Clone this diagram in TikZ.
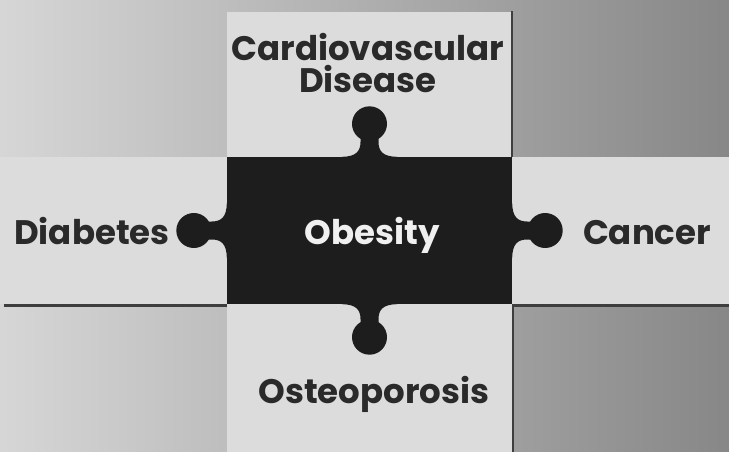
\documentclass[tikz,border=0pt]{standalone}
\usepackage{fontspec}
\setmainfont{Poppins}
\usepackage{tikz}
\usetikzlibrary{positioning}
\definecolor{hell}{HTML}{DCDCDC}
\definecolor{kern}{HTML}{1D1D1D}
\definecolor{schrift}{HTML}{2A2A2A}
\definecolor{schattig}{HTML}{3E3E3E}
\tikzset{
    feld/.style     = {fill=hell, inner sep=0pt, minimum height=147pt},
    mitte/.style    = {feld, fill=kern},
    beschr/.style   = {font=\fontsize{34}{32}\selectfont\bfseries, text=schrift,
                       align=center, inner sep=0pt},
    schatten/.style = {draw=schattig, line width=2.5pt},
    knopf/.pic      = {
        \fill[kern] (-28,-1) -- (-28,0) .. controls (-13,0) and (-9,6) .. (-9,15)
            -- (-9,22) -- (9,22) -- (9,15) .. controls (9,6) and (13,0) .. (28,0)
            -- (28,-1) -- cycle;
        \fill[kern] (0,33) circle[radius=17.5];
    }
}

\begin{document}
\begin{tikzpicture}[x=1pt, y=1pt]

    \useasboundingbox (0,-452) rectangle (729,0);

    % Hintergrund
    \shade[left color=black!16, right color=black!47] (0,-452) rectangle (729,0);

    % Felder
    \node[mitte, minimum width=285pt] (obesity) at (369.5,-230.5) {};
    \node[feld, minimum width=285pt, minimum height=145pt, above=0pt of obesity] (cvdbox) {};
    \node[feld, minimum width=227pt, left=0pt of obesity]  (diabbox) {};
    \node[feld, minimum width=217pt, right=0pt of obesity] (krebsbox) {};
    \node[feld, minimum width=285pt, minimum height=148pt, below=0pt of obesity] (ostbox) {};

    % Schattenkanten
    \draw[schatten] ([xshift=5pt, yshift=-1.5pt]diabbox.south west) -- ([yshift=-1.5pt]diabbox.south east);
    \draw[schatten] ([yshift=-1.5pt]krebsbox.south west) -- ([yshift=-1.5pt]krebsbox.south east);
    \draw[schatten] (cvdbox.north east) -- (cvdbox.south east);
    \draw[schatten] ([xshift=1pt]ostbox.north east) -- ([xshift=1pt]ostbox.south east);

    % Puzzleknoepfe
    \pic at (obesity.north) {knopf};
    \pic[rotate=90]  at (obesity.west)  {knopf};
    \pic[rotate=-90] at (obesity.east)  {knopf};
    \pic[rotate=180] at (obesity.south) {knopf};

    % Beschriftung
    \node[beschr] (cvd) at (368,-63) {Cardiovascular\\Disease};
    \node[beschr, anchor=base] (diab) at (92,-244) {Diabetes};
    \node[beschr, anchor=base] (krebs) at (647,-244) {Cancer};
    \node[beschr, anchor=base, text=white!94!black] (obes) at (372,-244) {Obesity};
    \node[beschr, anchor=base] (ost) at (374,-403) {Osteoporosis};
\end{tikzpicture}
\end{document}
